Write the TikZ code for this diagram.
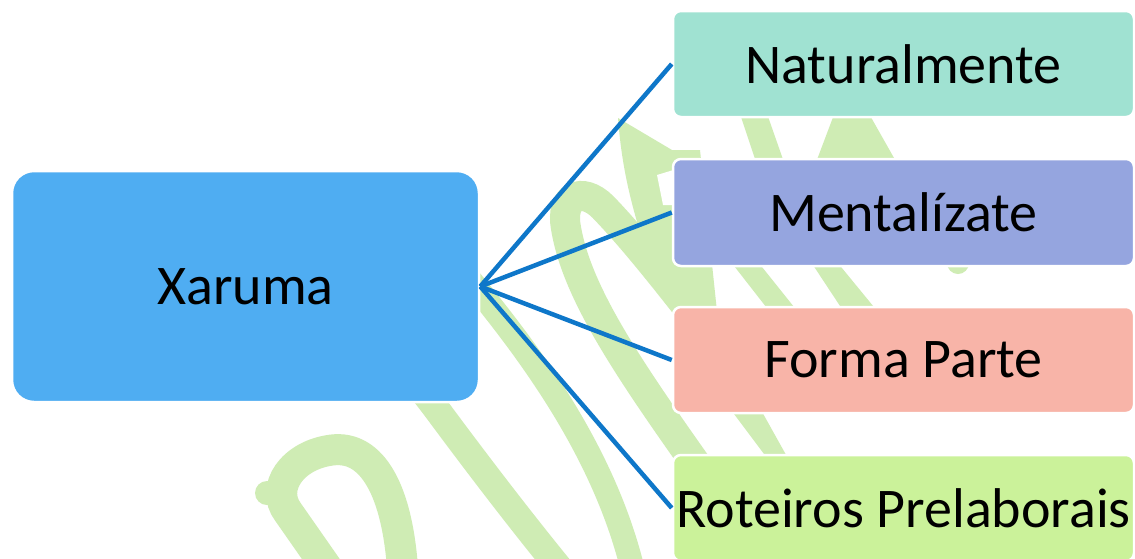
\documentclass[tikz,border=0pt]{standalone}
\usepackage{fontspec}
\setmainfont{Carlito}
\definecolor{mainblue}{HTML}{4FADF2}
\definecolor{boxa}{HTML}{A0E2D2}
\definecolor{boxb}{HTML}{95A5DF}
\definecolor{boxc}{HTML}{F8B4A8}
\definecolor{boxd}{HTML}{CBF29A}
\definecolor{linecol}{HTML}{0E77C9}
\definecolor{wmcol}{HTML}{CFECB4}
\begin{document}
\begin{tikzpicture}[x=1pt,y=-1pt,
  wm/.style={draw=wmcol, line width=28pt},
  leaf/.style={rounded corners=8pt, draw=white, line width=2.5pt,
    minimum width=461pt, minimum height=106pt, inner sep=0pt,
    font=\fontsize{56}{60}\selectfont, text=black},
  root/.style={rounded corners=22pt, draw=white, line width=2.5pt, fill=mainblue,
    minimum width=467pt, minimum height=231pt, inner sep=0pt,
    font=\fontsize{56}{60}\selectfont, text=black},
  conn/.style={draw=linecol, line width=4.5pt}]
\useasboundingbox (0,0) rectangle (1135,558);
\fill[white] (0,0) rectangle (1135,558);
% watermark
\draw[wm, line width=31pt] (332,575) -- (288,512) .. controls (270,488) and (292,455) .. (332,450)
  .. controls (372,445) and (398,490) .. (403,575);
\fill[wmcol] (267,493) circle (12);
\draw[wm, line width=27pt] (395,355) -- (435,407) .. controls (478,465) and (520,520) .. (565,575);
\draw[wm, line width=24pt] (455,262) .. controls (525,345) and (605,450) .. (634,575);
\draw[wm, line width=30pt] (725,505) .. controls (640,385) and (578,300) .. (566,228)
  .. controls (560,196) and (582,186) .. (603,207)
  .. controls (630,235) and (660,272) .. (705,330);
\fill[wmcol] (618,118) .. controls (622,170) and (632,215) .. (660,290) -- (720,340) -- (700,150) -- (672,150) -- cycle;
\fill[white] (657,175) -- (663,205) -- (680,205) -- (680,168) -- cycle;
\fill[wmcol] (738,108) -- (765,108) -- (786,168) -- (758,168) -- cycle;
\fill[wmcol] (835,112) -- (868,112) -- (898,165) -- (815,165) -- cycle;
\fill[wmcol] (731,262) -- (758,262) -- (798,312) -- (770,312) -- cycle;
\fill[wmcol] (811,262) -- (837,262) -- (878,312) -- (844,312) -- cycle;
\fill[wmcol] (958,263) circle (11);
\fill[wmcol] (731,410) -- (761,410) -- (790,462) -- (770,462) -- cycle;
% boxes
\node[root] (x) at (245.5,286.5) {Xaruma};
\node[leaf, fill=boxa] (n1) at (903.5,64) {Naturalmente};
\node[leaf, fill=boxb, minimum height=107pt] (n2) at (903.5,212.5) {Mentalízate};
\node[leaf, fill=boxc] (n3) at (903.5,360) {Forma Parte};
\node[leaf, fill=boxd] (n4) at (903.5,508) {Roteiros Prelaborais};
% connectors
\draw[conn] (x.east) -- (n1.west);
\draw[conn] (x.east) -- (n2.west);
\draw[conn] (x.east) -- (n3.west);
\draw[conn] (x.east) -- (n4.west);
\end{tikzpicture}
\end{document}
